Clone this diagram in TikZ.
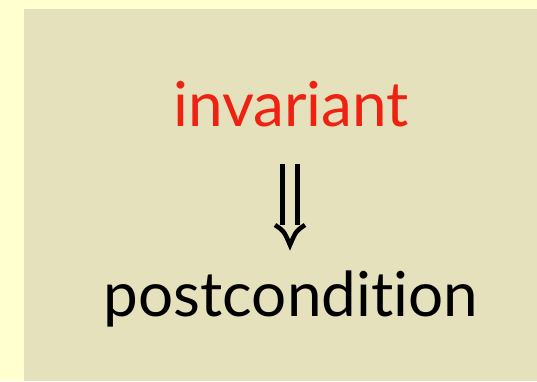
\documentclass[tikz,border=0pt]{standalone}
\usepackage{fontspec}
\setmainfont[Ligatures={NoCommon,NoRare,NoDiscretionary}]{Lato}
\definecolor{outerbg}{HTML}{FFFFD0}
\definecolor{innerbg}{HTML}{E6E1BD}
\definecolor{invred}{HTML}{EE2211}
\begin{document}
\begin{tikzpicture}[x=1bp,y=-1bp,
  word/.style={font=\fontsize{62bp}{66bp}\selectfont, inner sep=0pt, anchor=base},
  shaft/.style={line width=4.5bp, black},
  head/.style={line width=4.5bp, black, line join=miter, line cap=butt}]
\useasboundingbox (0,0) rectangle (537,381);
\fill[outerbg] (0,0) rectangle (537,381);
\fill[innerbg] (23.5,9) rectangle (537,381);
\node[word, text=invred] (inv) at (291,126) {invariant};
\node[word] (post) at (291,316) {pos\kern0pt tcondit\kern0pt ion};
\coordinate (top) at (290,164);
\coordinate (tip) at (290,245);
\draw[shaft] ([xshift=-7.5bp]top) -- ([xshift=-7.5bp,yshift=20bp]tip);
\draw[shaft] ([xshift=7.5bp]top) -- ([xshift=7.5bp,yshift=20bp]tip);
\draw[head] ([xshift=-15bp,yshift=20bp]tip) .. controls ([xshift=-6bp,yshift=14bp]tip) .. (tip) .. controls ([xshift=6bp,yshift=14bp]tip) .. ([xshift=15bp,yshift=20bp]tip);
\end{tikzpicture}
\end{document}
